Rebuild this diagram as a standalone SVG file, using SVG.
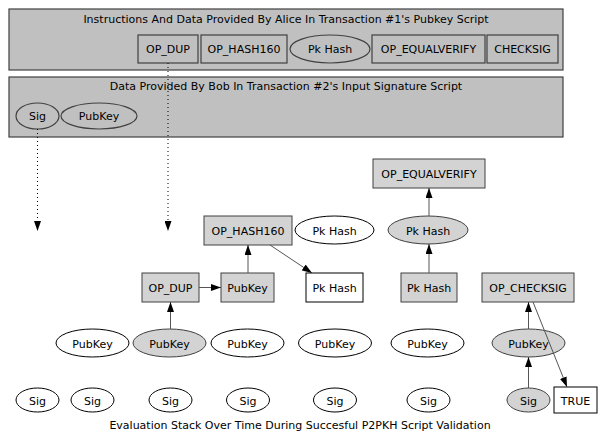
<svg xmlns="http://www.w3.org/2000/svg" width="600" height="438" viewBox="0 0 600 438">
<style>
text{font-family:"DejaVu Sans","Liberation Sans",sans-serif;font-size:11px;text-anchor:middle;fill:#000}
.t{font-size:11px}
.cl{fill:#c0c0c0;stroke:#404040;stroke-width:1.2}
.cb{fill:#c0c0c0;stroke:#404040;stroke-width:1.2}
.g{fill:#d3d3d3;stroke:#404040;stroke-width:1}
.w{fill:#fff;stroke:#000;stroke-width:1}
.e{stroke:#555;stroke-width:1;fill:none;marker-end:url(#ah)}
.d{stroke:#000;stroke-width:1;fill:none;stroke-dasharray:1,3;marker-end:url(#ah)}
</style>
<defs>
<marker id="ah" markerUnits="userSpaceOnUse" markerWidth="10" markerHeight="7" refX="10" refY="3.5" orient="auto">
<path d="M0,0 L10,3.5 L0,7 z" fill="#000"/>
</marker>
</defs>
<rect width="600" height="438" fill="#fff"/>
<g id="cluster_alice">
<rect class="cl" x="9" y="9" width="554" height="61"/>
<text class="t" x="286" y="23">Instructions And Data Provided By Alice In Transaction #1's Pubkey Script</text>
</g>
<g id="a_dup"><rect class="cb" x="138" y="35" width="60" height="28"/><text x="168" y="53">OP_DUP</text></g>
<g id="a_hash"><rect class="cb" x="201" y="35" width="86" height="28"/><text x="244" y="53">OP_HASH160</text></g>
<g id="a_pk"><ellipse class="cb" cx="330" cy="49" rx="40" ry="14"/><text x="330" y="53">Pk Hash</text></g>
<g id="a_eq"><rect class="cb" x="372" y="35" width="113" height="28"/><text x="428.5" y="53">OP_EQUALVERIFY</text></g>
<g id="a_cs"><rect class="cb" x="487" y="35" width="71" height="28"/><text x="522.5" y="53">CHECKSIG</text></g>
<g id="cluster_bob">
<rect class="cl" x="9" y="77" width="554" height="60"/>
<text class="t" x="286" y="90">Data Provided By Bob In Transaction #2's Input Signature Script</text>
</g>
<g id="b_sig"><ellipse class="cb" cx="37.5" cy="116" rx="21.5" ry="13"/><text x="37.5" y="120">Sig</text></g>
<g id="b_pub"><ellipse class="cb" cx="99" cy="116" rx="38" ry="13"/><text x="99" y="120">PubKey</text></g>

<g id="n_hash2"><rect class="g" x="204" y="216" width="88" height="29"/><text x="248" y="234.5">OP_HASH160</text></g>
<g id="n_pkw"><ellipse class="w" cx="334.5" cy="230" rx="39.5" ry="14"/><text x="334.5" y="234.5">Pk Hash</text></g>
<g id="n_eq"><rect class="g" x="373" y="159" width="112" height="29"/><text x="429" y="177.5">OP_EQUALVERIFY</text></g>
<g id="n_pkg"><ellipse class="g" cx="428" cy="230" rx="40" ry="14"/><text x="428" y="234.5">Pk Hash</text></g>

<g id="n_dup"><rect class="g" x="142" y="273" width="57" height="29"/><text x="170.5" y="291.5">OP_DUP</text></g>
<g id="n_pubbox"><rect class="g" x="221" y="273" width="53" height="29"/><text x="247.5" y="291.5">PubKey</text></g>
<g id="n_pkbox"><rect class="w" x="306" y="273" width="57" height="29"/><text x="334.5" y="291.5">Pk Hash</text></g>
<g id="n_pkbox2"><rect class="g" x="401" y="273" width="56" height="29"/><text x="429" y="291.5">Pk Hash</text></g>
<g id="n_cs"><rect class="g" x="482" y="273" width="92" height="29"/><text x="528" y="291.5">OP_CHECKSIG</text></g>

<g id="p1"><ellipse class="w" cx="92.5" cy="343" rx="36.5" ry="14"/><text x="92.5" y="347.5">PubKey</text></g>
<g id="p2"><ellipse class="g" cx="169.5" cy="343" rx="36.5" ry="14"/><text x="169.5" y="347.5">PubKey</text></g>
<g id="p3"><ellipse class="w" cx="247.5" cy="343" rx="36.5" ry="14"/><text x="247.5" y="347.5">PubKey</text></g>
<g id="p4"><ellipse class="w" cx="335" cy="343" rx="36.5" ry="14"/><text x="335" y="347.5">PubKey</text></g>
<g id="p5"><ellipse class="w" cx="427.5" cy="343" rx="36.5" ry="14"/><text x="427.5" y="347.5">PubKey</text></g>
<g id="p6"><ellipse class="g" cx="528.5" cy="343" rx="36.5" ry="14"/><text x="528.5" y="347.5">PubKey</text></g>

<g id="s1"><ellipse class="w" cx="37.5" cy="400" rx="21.5" ry="12"/><text x="37.5" y="404.5">Sig</text></g>
<g id="s2"><ellipse class="w" cx="92.5" cy="400" rx="21.5" ry="12"/><text x="92.5" y="404.5">Sig</text></g>
<g id="s3"><ellipse class="w" cx="170.5" cy="400" rx="21.5" ry="12"/><text x="170.5" y="404.5">Sig</text></g>
<g id="s4"><ellipse class="w" cx="248" cy="400" rx="21.5" ry="12"/><text x="248" y="404.5">Sig</text></g>
<g id="s5"><ellipse class="w" cx="335" cy="400" rx="21.5" ry="12"/><text x="335" y="404.5">Sig</text></g>
<g id="s6"><ellipse class="w" cx="428.5" cy="400" rx="21.5" ry="12"/><text x="428.5" y="404.5">Sig</text></g>
<g id="s7"><ellipse class="g" cx="528.5" cy="400" rx="21.5" ry="12"/><text x="528.5" y="404.5">Sig</text></g>
<g id="n_true"><rect class="w" x="554" y="387" width="43" height="26"/><text x="575.5" y="404.5">TRUE</text></g>

<g id="connectors">
<path class="d" d="M37.5,129 V231"/>
<path class="d" d="M168,63 V231"/>
<path class="e" d="M199,287.5 H221"/>
<path class="e" d="M248,273 V245"/>
<path class="e" d="M270,245 L312,273"/>
<path class="e" d="M170.5,329 V302"/>
<path class="e" d="M429,273 V244"/>
<path class="e" d="M429,216 V188"/>
<path class="e" d="M528.5,388 V357"/>
<path class="e" d="M528.5,329 V302"/>
<path class="e" d="M533,302 L567,387"/>
</g>
<text class="t" x="300" y="429">Evaluation Stack Over Time During Succesful P2PKH Script Validation</text>
</svg>
